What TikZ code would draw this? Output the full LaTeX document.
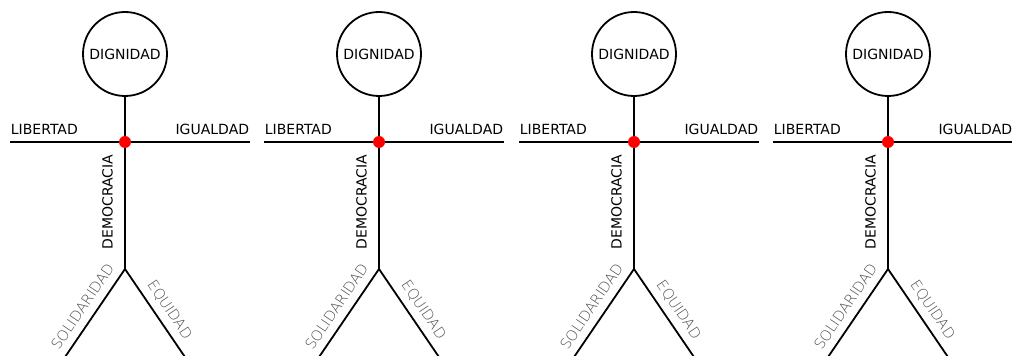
\documentclass[tikz,border=0pt]{standalone}
\usepackage{fontspec}
\setmainfont{DejaVu Sans}
\newfontfamily\thinfont{DejaVu Sans ExtraLight}
\usepackage{tikz}

\begin{document}
\begin{tikzpicture}[x=1pt, y=1pt, line width=1.8pt,
    value/.style={font=\fontsize{14}{16}\selectfont, inner sep=0pt},
    legvalue/.style={font=\thinfont\fontsize{14.5}{16}\selectfont, text=black!70, inner sep=0pt}]
  \useasboundingbox (0,0) rectangle (1012,356);
  \clip (0,0) rectangle (1012,356);
  \foreach \cx [count=\i] in {125,379,634,888} {
    % Head
    \node[draw, circle, minimum size=84pt, inner sep=0pt, value] (head\i) at (\cx,302) {DIGNIDAD};
    % Body points
    \coordinate (heart\i) at (\cx,214);
    \coordinate (lhand\i) at (\cx-115,214);
    \coordinate (rhand\i) at (\cx+125,214);
    \coordinate (hip\i) at (\cx,87);
    \coordinate (lfoot\i) at (\cx-62,-4);
    \coordinate (rfoot\i) at (\cx+62,-4);
    % Arms, body, legs
    \draw (lhand\i) -- (rhand\i);
    \draw (head\i) -- (hip\i);
    \draw (lfoot\i) -- (hip\i) -- (rfoot\i);
    \node[circle, fill=red, inner sep=0pt, minimum size=12pt] (dot\i) at (heart\i) {};
    % Labels
    \node[value, anchor=base west] (lib\i) at (\cx-115,221) {LIBERTAD};
    \node[value, anchor=base east] (igu\i) at (\cx+125,221) {IGUALDAD};
    \node[value, rotate=90] (dem\i) at (\cx-17.5,154) {DEMOCRACIA};
    \node[legvalue, rotate=56] (sol\i) at (\cx-42.5,49.5) {SOLIDARIDAD};
    \node[legvalue, rotate=-56] (equ\i) at (\cx+44.5,46) {EQUIDAD};
  }
\end{tikzpicture}
\end{document}
